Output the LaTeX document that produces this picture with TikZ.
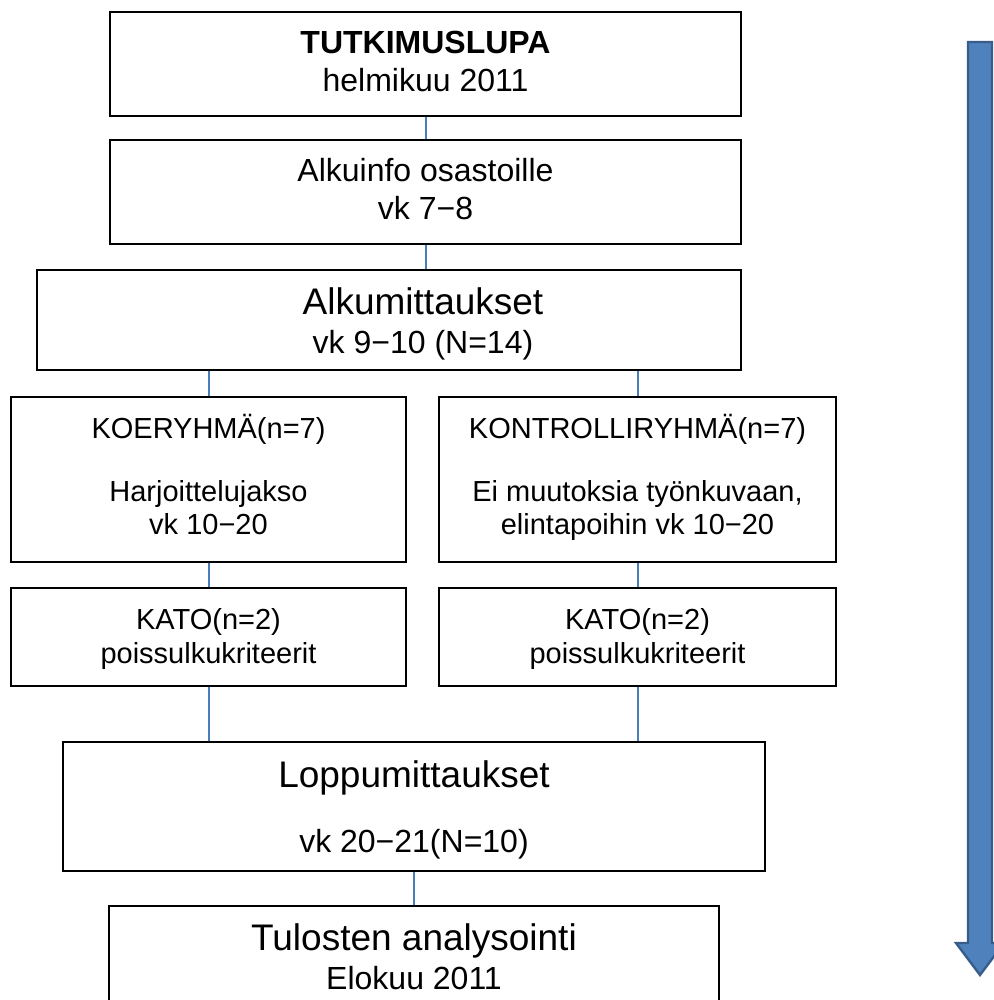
\documentclass[tikz,border=0pt]{standalone}
\usepackage{fontspec}
\setmainfont{Liberation Sans}
\definecolor{linkblue}{HTML}{4A7EBB}
\definecolor{arrowfill}{HTML}{4F81BD}
\definecolor{arrowline}{HTML}{385D8A}
% lines stacked with exact baseline distances set by \noalign{\vskip ...}
\newcommand\mlines[1]{\vtop{\lineskiplimit=-1000pt\lineskip=0pt\baselineskip=0pt
  \halign{\hfil##\hfil\cr#1\crcr}}}
\newcommand\fa{\fontsize{16}{16}\selectfont}
\newcommand\fb{\fontsize{14.5}{14.5}\selectfont}
\newcommand\fl{\fontsize{18.5}{18.5}\selectfont}
\begin{document}
\begin{tikzpicture}[x=0.5pt,y=-0.5pt,
  box/.style={draw=black,line width=1pt,inner sep=0pt,fill=white},
  link/.style={draw=linkblue,line width=1pt}]
\useasboundingbox[fill=white] (0,0) rectangle (993,1000);
% boxes
\node[box,font=\fa,minimum width=315.5pt,text height=21pt,text depth=31pt] (b1) at (425.5,64)
  {\mlines{\textbf{TUTKIMUSLUPA}\cr\noalign{\vskip19pt}helmikuu 2011}};
\node[box,font=\fa,minimum width=315.5pt,text height=21pt,text depth=31pt] (b2) at (425.5,192)
  {\mlines{Alkuinfo osastoille\cr\noalign{\vskip19pt}vk 7−8}};
\node[box,font=\fa,minimum width=352pt,text height=22.25pt,text depth=27.75pt] (b3) at (389,320)
  {\kern34pt\mlines{{\fl Alkumittaukset}\cr\noalign{\vskip19.5pt}vk 9−10 (N=14)}};
\node[box,font=\fb,minimum width=197.5pt,text height=20.5pt,text depth=62pt] (b4l) at (208.5,479.5)
  {\mlines{KOERYHMÄ(n=7)\cr\noalign{\vskip31.75pt}Harjoittelujakso\cr\noalign{\vskip16.25pt}vk 10−20}};
\node[box,font=\fb,minimum width=198.5pt,text height=20.5pt,text depth=62pt] (b4r) at (637.5,479.5)
  {\mlines{KONTROLLIRYHMÄ(n=7)\cr\noalign{\vskip31.75pt}Ei muutoksia työnkuvaan,\cr\noalign{\vskip16.25pt}elintapoihin vk 10−20}};
\node[box,font=\fb,minimum width=197.5pt,text height=20.75pt,text depth=28.25pt] (b5l) at (208.5,637)
  {\mlines{KATO(n=2)\cr\noalign{\vskip16.75pt}poissulkukriteerit}};
\node[box,font=\fb,minimum width=198.5pt,text height=20.75pt,text depth=28.25pt] (b5r) at (637.5,637)
  {\mlines{KATO(n=2)\cr\noalign{\vskip16.75pt}poissulkukriteerit}};
\node[box,font=\fa,minimum width=351pt,text height=22.5pt,text depth=42pt] (b6) at (414,806.5)
  {\mlines{{\fl Loppumittaukset}\cr\noalign{\vskip32.5pt}vk 20−21(N=10)}};
\node[box,font=\fa,minimum width=305pt,text height=22pt,text depth=29pt] (b7) at (414,957)
  {\mlines{{\fl Tulosten analysointi}\cr\noalign{\vskip19.5pt}Elokuu 2011}};
% connectors
\draw[link] (b1.south) -- (b2.north);
\draw[link] (b2.south) -- (b2.south |- b3.north);
\draw[link] (b4l.north |- b3.south) -- (b4l.north);
\draw[link] (b4r.north |- b3.south) -- (b4r.north);
\draw[link] (b4l.south) -- (b5l.north);
\draw[link] (b4r.south) -- (b5r.north);
\draw[link] (b5l.south) -- (b5l.south |- b6.north);
\draw[link] (b5r.south) -- (b5r.south |- b6.north);
\draw[link] (b6.south) -- (b7.north);
% timeline arrow
\path[fill=arrowfill,draw=arrowline,line width=1.2pt,line join=miter]
  (968,42) -- (992,42) -- (992,943) -- (1004,943) -- (980,975) -- (956,943) -- (968,943) -- cycle;
\end{tikzpicture}
\end{document}
